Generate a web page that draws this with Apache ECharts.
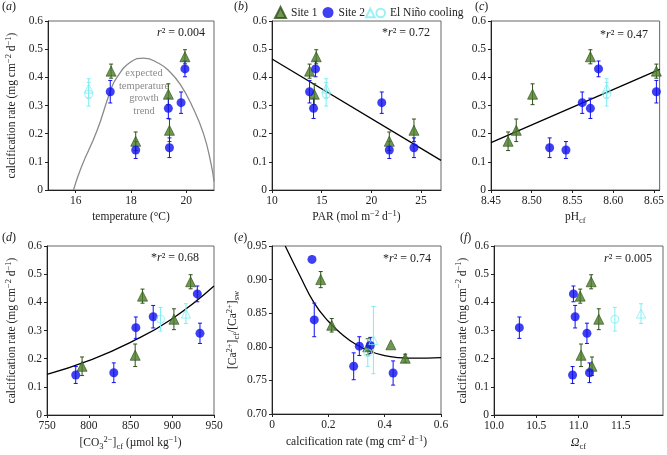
<!DOCTYPE html>
<html>
<head>
<meta charset="utf-8">
<script src="https://cdn.jsdelivr.net/npm/echarts@6/dist/echarts.min.js"></script>
<style>
  html, body { margin: 0; padding: 0; background: #fff; }
  #main { width: 667px; height: 455px; }
</style>
</head>
<body>
<div id="main"></div>
<script>
// calcification rate (mg cm-2 d-1) with error, same order in every panel
const site1Rate = [0.422, 0.173, 0.34, 0.212, 0.473];
const site1RateErr = [0.025, 0.033, 0.037, 0.04, 0.025];
const site2Rate = [0.349, 0.142, 0.29, 0.15, 0.31, 0.43];
const site2RateErr = [0.04, 0.03, 0.036, 0.035, 0.038, 0.028];
const ninoRate = [0.34, 0.36]; // circle, triangle
const ninoRateErr = [0.042, 0.035];

// predictors
const site1Temp = [17.28, 18.17, 19.35, 19.39, 19.95];
const site2Temp = [17.25, 18.17, 19.35, 19.39, 19.81, 19.95];
const ninoTemp = [16.47, 16.47];

const site1Par = [13.78, 21.8, 14.25, 24.28, 14.45];
const site2Par = [13.78, 21.8, 14.18, 24.28, 21.04, 14.38];
const ninoPar = [15.45, 15.45];

const site1Ph = [8.653, 8.471, 8.501, 8.481, 8.572];
const site2Ph = [8.653, 8.542, 8.572, 8.522, 8.562, 8.582];
const ninoPh = [8.592, 8.592];

const site1Co3 = [864.4, 792, 902, 855.6, 922];
const site2Co3 = [877.2, 784.4, 933.2, 830, 856.4, 930];
const ninoCo3 = [886, 916.4];

const site1Omega = [11.02, 11.16, 11.24, 11.03, 11.15];
const site2Omega = [10.96, 10.93, 11.1, 11.13, 10.3, 10.94];
const ninoOmega = [11.43, 11.74];

// [Ca2+]cf/[Ca2+]sw
const site1Ca = [0.803, 0.9, 0.8, 0.832, 0.783];
const site1CaErr = [0, 0.012, 0.012, 0.01, 0.006];
const site2Ca = [0.802, 0.93, 0.771, 0.84, 0.801, 0.761];
const site2CaErr = [0.012, 0, 0.02, 0.025, 0.014, 0.018];
const ninoCa = [0.791, 0.81];
const ninoCaErr = [0.02, 0.05];

// trend lines
const tempCurve = [[15.92, 0], [16.2, 0.08], [16.77, 0.21], [17.25, 0.35], [17.49, 0.4], [18.0, 0.455], [18.46, 0.468], [19.0, 0.45], [19.4, 0.42], [19.78, 0.375], [20.2, 0.3], [20.62, 0.2], [20.9, 0.09], [21.0, 0.03]];
const parLine = [[10, 0.465], [27, 0.105]];
const phLine = [[8.45, 0.168], [8.657, 0.428]];
const co3Curve = [[750, 0.144], [800, 0.193], [850, 0.258], [900, 0.342], [950, 0.458]];
const caCurve = [[0.047, 0.95], [0.1, 0.905], [0.15, 0.865], [0.2, 0.838], [0.25, 0.818], [0.3, 0.803], [0.35, 0.793], [0.4, 0.787], [0.45, 0.784], [0.5, 0.783], [0.6, 0.784]];

// tick labels
const rateTicks = [0, 0.1, 0.2, 0.3, 0.4, 0.5, 0.6];
const tempTicks = [16, 18, 20];
const parTicks = [10, 15, 20, 25];
const phTicks = [8.45, 8.5, 8.55, 8.6, 8.65];
const co3Ticks = [750, 800, 850, 900, 950];
const caRateTicks = [0, 0.2, 0.4, 0.6];
const caTicks = [0.7, 0.75, 0.8, 0.85, 0.9, 0.95];
const omegaTicks = [10, 10.5, 11, 11.5];

const FONT = "Liberation Serif";
const FS = 11.5;
const INK = "#222";
const GREEN = "#4a7d28";
const GREEN_DARK = "#2f4f18";
const BLUE = "#1010f0";
const CYAN = "#80eef2";

const grids = [
  { left: 48, top: 21, width: 166, height: 169 },
  { left: 272, top: 21, width: 169, height: 169 },
  { left: 491, top: 21, width: 171, height: 169 },
  { left: 47, top: 246, width: 167, height: 169 },
  { left: 272, top: 246, width: 169, height: 168 },
  { left: 494, top: 246, width: 169, height: 169 }
].map(g => Object.assign({ show: true, borderColor: "#666", borderWidth: 1, backgroundColor: "transparent" }, g));

const nameStyle = {
  fontFamily: FONT,
  fontSize: 11.5,
  color: INK,
  lineHeight: 16,
  rich: {
    sup: { fontFamily: FONT, fontSize: 8.5, lineHeight: 8, verticalAlign: "top", color: INK },
    sub: { fontFamily: FONT, fontSize: 8.5, lineHeight: 8, verticalAlign: "bottom", color: INK },
    it: { fontFamily: FONT, fontSize: 12, fontStyle: "italic", color: INK }
  }
};

function axis(gi, min, max, ticks, fmt, name, gap) {
  return {
    gridIndex: gi,
    type: "value",
    min: min,
    max: max,
    name: name || "",
    nameLocation: "middle",
    nameGap: gap || 0,
    nameTextStyle: nameStyle,
    axisLine: { onZero: false, lineStyle: { color: INK, width: 1 } },
    axisTick: { customValues: ticks, length: 3, lineStyle: { color: INK } },
    axisLabel: { customValues: ticks, formatter: fmt, fontFamily: FONT, fontSize: FS, color: INK, margin: 5 },
    splitLine: { show: false }
  };
}

const f1 = v => (v === 0 ? "0" : v.toFixed(1));
const f2 = v => v.toFixed(2);
const f0 = v => String(v);
const rateName = "calcification rate (mg cm{sup|−2} d{sup|−1})";

const xAxes = [
  axis(0, 15, 21, tempTicks, f0, "temperature (°C)", 19),
  axis(1, 10, 27, parTicks, f0, "PAR (mol m{sup|−2} d{sup|−1})", 19),
  axis(2, 8.45, 8.657, phTicks, f2, "pH{sub|cf}", 19),
  axis(3, 750, 950, co3Ticks, f0, "[CO{sub|3}{sup|2−}]{sub|cf} (µmol kg{sup|−1})", 20),
  axis(4, 0, 0.6, caRateTicks, f1, "calcification rate (mg cm{sup|2} d{sup|−1})", 20),
  axis(5, 10, 12, omegaTicks, v => v.toFixed(1), "{it|Ω}{sub|cf}", 20)
];
const yAxes = [
  axis(0, 0, 0.6, rateTicks, f1, rateName, 28),
  axis(1, 0, 0.6, rateTicks, f1),
  axis(2, 0, 0.6, rateTicks, f1),
  axis(3, 0, 0.6, rateTicks, f1, rateName, 27),
  axis(4, 0.7, 0.95, caTicks, f2, "[Ca{sup|2+}]{sub|cf}/[Ca{sup|2+}]{sub|sw}", 31),
  axis(5, 0, 0.6, rateTicks, f1, rateName, 21)
];

// vertical error bar with small caps
function errRender(params, api) {
  const x = api.value(0);
  const lo = api.coord([x, api.value(1)]);
  const hi = api.coord([x, api.value(2)]);
  const w = 2;
  const style = { stroke: api.visual("color"), lineWidth: 1 };
  return {
    type: "group",
    children: [
      { type: "line", shape: { x1: hi[0], y1: hi[1], x2: lo[0], y2: lo[1] }, style: style },
      { type: "line", shape: { x1: hi[0] - w, y1: hi[1], x2: hi[0] + w, y2: hi[1] }, style: style },
      { type: "line", shape: { x1: lo[0] - w, y1: lo[1], x2: lo[0] + w, y2: lo[1] }, style: style }
    ]
  };
}

const series = [];

function errSeries(gi, xs, ys, es, color) {
  const data = [];
  xs.forEach((x, i) => {
    if (es[i] > 0) data.push([x, ys[i] - es[i], ys[i] + es[i]]);
  });
  series.push({
    type: "custom",
    xAxisIndex: gi,
    yAxisIndex: gi,
    renderItem: errRender,
    itemStyle: { color: color },
    encode: { x: 0, y: [1, 2] },
    data: data,
    clip: false,
    silent: true,
    z: 2
  });
}

function pointSeries(gi, name, xs, ys, symbol, size, itemStyle) {
  series.push({
    name: name,
    type: "scatter",
    xAxisIndex: gi,
    yAxisIndex: gi,
    symbol: symbol,
    symbolSize: size,
    itemStyle: itemStyle,
    data: xs.map((x, i) => [x, ys[i]]),
    z: 3
  });
}

function panel(gi, s1x, s1y, s1e, s2x, s2y, s2e, nx, ny, ne) {
  errSeries(gi, s1x, s1y, s1e, GREEN_DARK);
  pointSeries(gi, "Site 1", s1x, s1y, "triangle", 10, { color: GREEN, borderColor: GREEN_DARK, borderWidth: 0.8 });
  errSeries(gi, s2x, s2y, s2e, BLUE);
  pointSeries(gi, "Site 2", s2x, s2y, "circle", 9, { color: BLUE });
  errSeries(gi, nx, ny, ne, CYAN);
  const hollow = { color: "rgba(255,255,255,0)", borderColor: CYAN, borderWidth: 1 };
  pointSeries(gi, "El Niño cooling", [nx[1]], [ny[1]], "triangle", 9, hollow);
  pointSeries(gi, "El Niño cooling", [nx[0]], [ny[0]], "circle", 8, hollow);
}

function trend(gi, data, color, smooth) {
  series.push({
    type: "line",
    xAxisIndex: gi,
    yAxisIndex: gi,
    data: data,
    symbol: "none",
    smooth: smooth,
    lineStyle: { color: color, width: 1.3 },
    silent: true,
    z: 1
  });
}

trend(0, tempCurve, "#8a8a8a", true);
trend(1, parLine, "#000", false);
trend(2, phLine, "#000", false);
trend(3, co3Curve, "#000", true);
trend(4, caCurve, "#000", true);

panel(0, site1Temp, site1Rate, site1RateErr, site2Temp, site2Rate, site2RateErr, ninoTemp, ninoRate, ninoRateErr);
panel(1, site1Par, site1Rate, site1RateErr, site2Par, site2Rate, site2RateErr, ninoPar, ninoRate, ninoRateErr);
panel(2, site1Ph, site1Rate, site1RateErr, site2Ph, site2Rate, site2RateErr, ninoPh, ninoRate, ninoRateErr);
panel(3, site1Co3, site1Rate, site1RateErr, site2Co3, site2Rate, site2RateErr, ninoCo3, ninoRate, ninoRateErr);
panel(4, site1Rate, site1Ca, site1CaErr, site2Rate, site2Ca, site2CaErr, ninoRate, ninoCa, ninoCaErr);
panel(5, site1Omega, site1Rate, site1RateErr, site2Omega, site2Rate, site2RateErr, ninoOmega, ninoRate, ninoRateErr);

// text helpers for panel letters and r2 notes
const itRich = { it: { fontFamily: FONT, fontSize: 12, fontStyle: "italic", fill: INK } };
function label(x, y, text, align) {
  return {
    type: "text",
    x: x,
    y: y,
    silent: true,
    style: { text: text, fontFamily: FONT, fontSize: 12, fill: INK, align: align, verticalAlign: "middle", rich: itRich }
  };
}

const graphics = [
  label(2, 7, "({it|a})", "left"),
  label(234, 7, "({it|b})", "left"),
  label(475, 7, "({it|c})", "left"),
  label(2, 238, "({it|d})", "left"),
  label(234, 238, "({it|e})", "left"),
  label(460, 238, "({it|f})", "left"),
  label(205, 33, "{it|r}² = 0.004", "right"),
  label(430, 33, "*{it|r}² = 0.72", "right"),
  label(648, 35, "*{it|r}² = 0.47", "right"),
  label(199, 258, "*{it|r}² = 0.68", "right"),
  label(431, 259, "*{it|r}² = 0.74", "right"),
  label(652, 259, "{it|r}² = 0.005", "right"),
  {
    type: "text",
    x: 144,
    y: 67,
    silent: true,
    style: {
      text: "expected\ntemperature\ngrowth\ntrend",
      fontFamily: FONT,
      fontSize: 10.5,
      lineHeight: 12.6,
      fill: "#8a8a8a",
      align: "center",
      verticalAlign: "top"
    }
  }
];

const legendText = { fontFamily: FONT, fontSize: 11.5, color: INK };

const myChart = echarts.init(document.getElementById("main"));
myChart.setOption({
  animation: false,
  legend: [
    {
      left: 269,
      top: 1,
      itemWidth: 11,
      itemHeight: 11,
      itemGap: 5,
      selectedMode: false,
      textStyle: legendText,
      data: [
        { name: "Site 1", icon: "triangle" },
        { name: "Site 2", icon: "circle" }
      ]
    },
    {
      left: 360,
      top: 2,
      itemWidth: 19,
      itemHeight: 9,
      selectedMode: false,
      textStyle: legendText,
      data: [
        { name: "El Niño cooling", icon: "path://M0,10L5,0L10,10Z M22,5A5,5,0,1,1,12,5A5,5,0,1,1,22,5Z" }
      ]
    }
  ],
  grid: grids,
  xAxis: xAxes,
  yAxis: yAxes,
  series: series,
  graphic: graphics
});
</script>
</body>
</html>
